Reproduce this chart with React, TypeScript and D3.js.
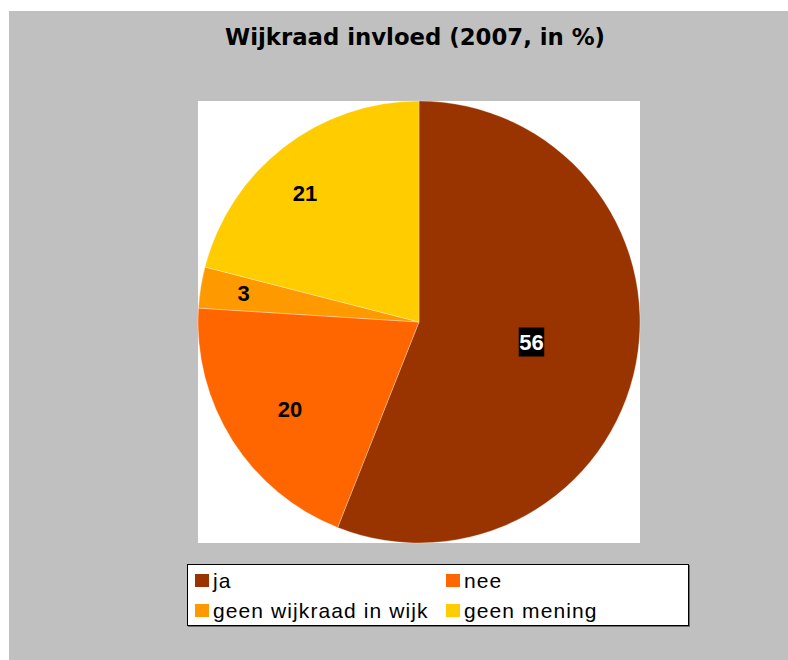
import React, { useRef, useEffect } from "react";
import * as d3 from "d3";

// data
const categories = ["ja", "nee", "geen wijkraad in wijk", "geen mening"];
const values = [56, 20, 3, 21];
const colors = ["#993300", "#FF6600", "#FF9900", "#FFCC00"];
const title = "Wijkraad invloed (2007, in %)";

// layout
const W = 788;
const H = 660;
const cx = 419;
const cy = 322;
const radius = 221;
// where Excel put the data labels: fraction of radius, and a small angle nudge (degrees)
const labelRadius = [0.517, 0.703, 0.805, 0.78];
const labelAngleShift = [-0.7, -1.5, 0.5, -3.6];

function App() {
  const svgRef = useRef<SVGSVGElement>(null);

  useEffect(() => {
    const svg = d3.select(svgRef.current);
    svg.selectAll("*").remove();

    // background panel
    svg.append("rect").attr("x", 9).attr("y", 11).attr("width", W - 9).attr("height", H - 11).attr("fill", "#C0C0C0");

    // plot area
    svg.append("rect").attr("x", 198).attr("y", 101).attr("width", 442).attr("height", 442).attr("fill", "#FFFFFF");

    svg
      .append("text")
      .attr("x", 415)
      .attr("y", 45)
      .attr("text-anchor", "middle")
      .attr("font-family", "DejaVu Sans")
      .attr("font-weight", "bold")
      .attr("font-size", 22.8)
      .attr("fill", "#000")
      .text(title);

    const pie = d3.pie<number>().sort(null).value((d) => d);
    const arcs = pie(values);
    const arc = d3.arc<d3.PieArcDatum<number>>().innerRadius(0).outerRadius(radius);

    const g = svg.append("g").attr("transform", `translate(${cx},${cy})`);
    g.selectAll(".slice")
      .data(arcs)
      .join("path")
      .attr("class", "slice")
      .attr("d", arc)
      .attr("fill", (d, i) => colors[i])
      .attr("stroke", "rgba(255,255,255,0.5)")
      .attr("stroke-width", 0.6);

    arcs.forEach((d, i) => {
      const r = radius * labelRadius[i];
      const a = (d.startAngle + d.endAngle) / 2 + (labelAngleShift[i] * Math.PI) / 180;
      const lx = r * Math.sin(a);
      const ly = -r * Math.cos(a);
      const boxed = i === 0;
      const lg = g.append("g");
      const t = lg
        .append("text")
        .attr("x", lx)
        .attr("y", ly)
        .attr("dy", "0.36em")
        .attr("text-anchor", "middle")
        .attr("font-family", "Liberation Sans, Arial, sans-serif")
        .attr("font-weight", "bold")
        .attr("font-size", 22)
        .attr("fill", boxed ? "#FFFFFF" : "#000000")
        .text(String(values[i]));
      if (boxed) {
        const bb = (t.node() as SVGTextElement).getBBox();
        lg.insert("rect", "text")
          .attr("x", lx - (bb.width + 1) / 2)
          .attr("y", ly - 14.5)
          .attr("width", bb.width + 1)
          .attr("height", 29)
          .attr("fill", "#000");
      }
    });

    // legend
    const legend = svg.append("g");
    legend.append("rect").attr("x", 188).attr("y", 565).attr("width", 502).attr("height", 62).attr("fill", "#6E6E6E");
    legend
      .append("rect")
      .attr("x", 187.5)
      .attr("y", 564.5)
      .attr("width", 501)
      .attr("height", 61)
      .attr("fill", "#FFFFFF")
      .attr("stroke", "#000")
      .attr("stroke-width", 1);

    const colX = [195, 446];
    const rowY = [581, 611];
    categories.forEach((c, i) => {
      const x = colX[i % 2];
      const y = rowY[Math.floor(i / 2)];
      legend.append("rect").attr("x", x).attr("y", y - 7).attr("width", 14).attr("height", 13).attr("fill", colors[i]);
      legend
        .append("text")
        .attr("x", x + 18)
        .attr("y", y)
        .attr("dy", "0.35em")
        .attr("font-family", "Liberation Sans, Arial, sans-serif")
        .attr("font-size", 21)
        .attr("letter-spacing", 1.1)
        .attr("fill", "#000")
        .text(c);
    });
  }, []);

  return (
    <svg
      ref={svgRef}
      width={W}
      height={H}
      style={{ position: "absolute", left: 0, top: 0, display: "block" }}
    ></svg>
  );
}

export default App;
